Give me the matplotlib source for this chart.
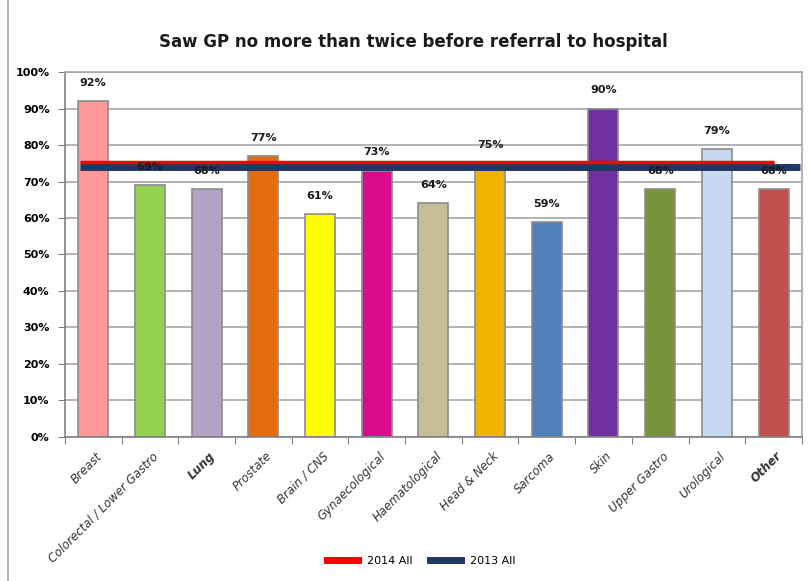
import numpy as np
import matplotlib
matplotlib.use("Agg")
import matplotlib.pyplot as plt
from matplotlib.patches import Rectangle
from matplotlib.lines import Line2D

plt.rcParams['font.family'] = ['DejaVu Sans']

# data
categories = ['Breast', 'Colorectal / Lower Gastro', 'Lung', 'Prostate', 'Brain / CNS',
              'Gynaecological', 'Haematological', 'Head & Neck', 'Sarcoma', 'Skin',
              'Upper Gastro', 'Urological', 'Other']
values = [92, 69, 68, 77, 61, 73, 64, 75, 59, 90, 68, 79, 68]
colors = ['#FF9999', '#92D050', '#B3A2C7', '#E46C0A', '#FFFF00', '#DA0A8C', '#C4BD97',
          '#EEB400', '#4F81BD', '#7030A0', '#77933C', '#C6D9F1', '#C0504D']
bold_labels = ['Lung', 'Other']
avg_2014 = 75
avg_2013 = 74

fig = plt.figure(figsize=(8.1, 5.81), dpi=100)
ax = fig.add_axes([0.080, 0.248, 0.910, 0.628])

x = np.arange(len(categories))
ax.bar(x, values, width=0.53, color=colors, edgecolor='#8C8C8C', linewidth=1.2, zorder=2)

# data labels
for xi, v in zip(x, values):
    ax.text(xi, v + 3.6, f'{v}%', ha='center', va='bottom', fontsize=8,
            fontweight='bold', color='#1a1a1a', zorder=5)

# average lines
ax.plot([-0.23, 12.47], [avg_2013, avg_2013], color='#1F3864', linewidth=5, zorder=3,
        solid_capstyle='butt')
ax.plot([-0.23, 12.0], [avg_2014 + 0.4, avg_2014 + 0.4], color='#FF0000', linewidth=2.5,
        zorder=4, solid_capstyle='butt')

ax.set_xlim(-0.5, len(categories) - 0.5)
ax.set_ylim(0, 100)
ax.set_yticks(np.arange(0, 101, 10))
ax.set_yticklabels([f'{t}%' for t in range(0, 101, 10)], fontsize=8, fontweight='bold')
ax.yaxis.grid(True, color='#A6A6A6', linewidth=1.2, zorder=0)
ax.set_axisbelow(True)

ax.set_xticks(np.arange(-0.5, len(categories), 1), minor=False)
ax.set_xticklabels([])
ax.tick_params(axis='x', length=5, color='#808080', direction='out')
ax.tick_params(axis='y', length=5, color='#808080', pad=6)
for xi, c in zip(x, categories):
    ax.text(xi + 0.2, -3.5, c, rotation=45, ha='right', va='top', fontsize=8.5,
            fontstyle='italic', color='#333333',
            fontweight='bold' if c in bold_labels else 'normal',
            transform=ax.transData)

for s in ['left', 'bottom']:
    ax.spines[s].set_color('#808080')
    ax.spines[s].set_linewidth(1.2)
for s in ['top', 'right']:
    ax.spines[s].set_color('#A6A6A6')
    ax.spines[s].set_linewidth(1.2)

fig.text(0.51, 0.928, 'Saw GP no more than twice before referral to hospital',
         ha='center', va='center', fontsize=12, fontweight='bold', color='#1a1a1a')

handles = [Line2D([0], [0], color='#FF0000', linewidth=5),
           Line2D([0], [0], color='#1F3864', linewidth=5)]
fig.legend(handles, ['2014 All', '2013 All'], loc='center', bbox_to_anchor=(0.52, 0.035),
           ncol=2, frameon=False, fontsize=8, handlelength=2.8, columnspacing=1.5)

fig.patches.append(Rectangle((0.01, -0.01), 1.0, 1.02, transform=fig.transFigure,
                             fill=False, edgecolor='#A6A6A6', linewidth=1.2))

plt.savefig('out.png', dpi=100)
